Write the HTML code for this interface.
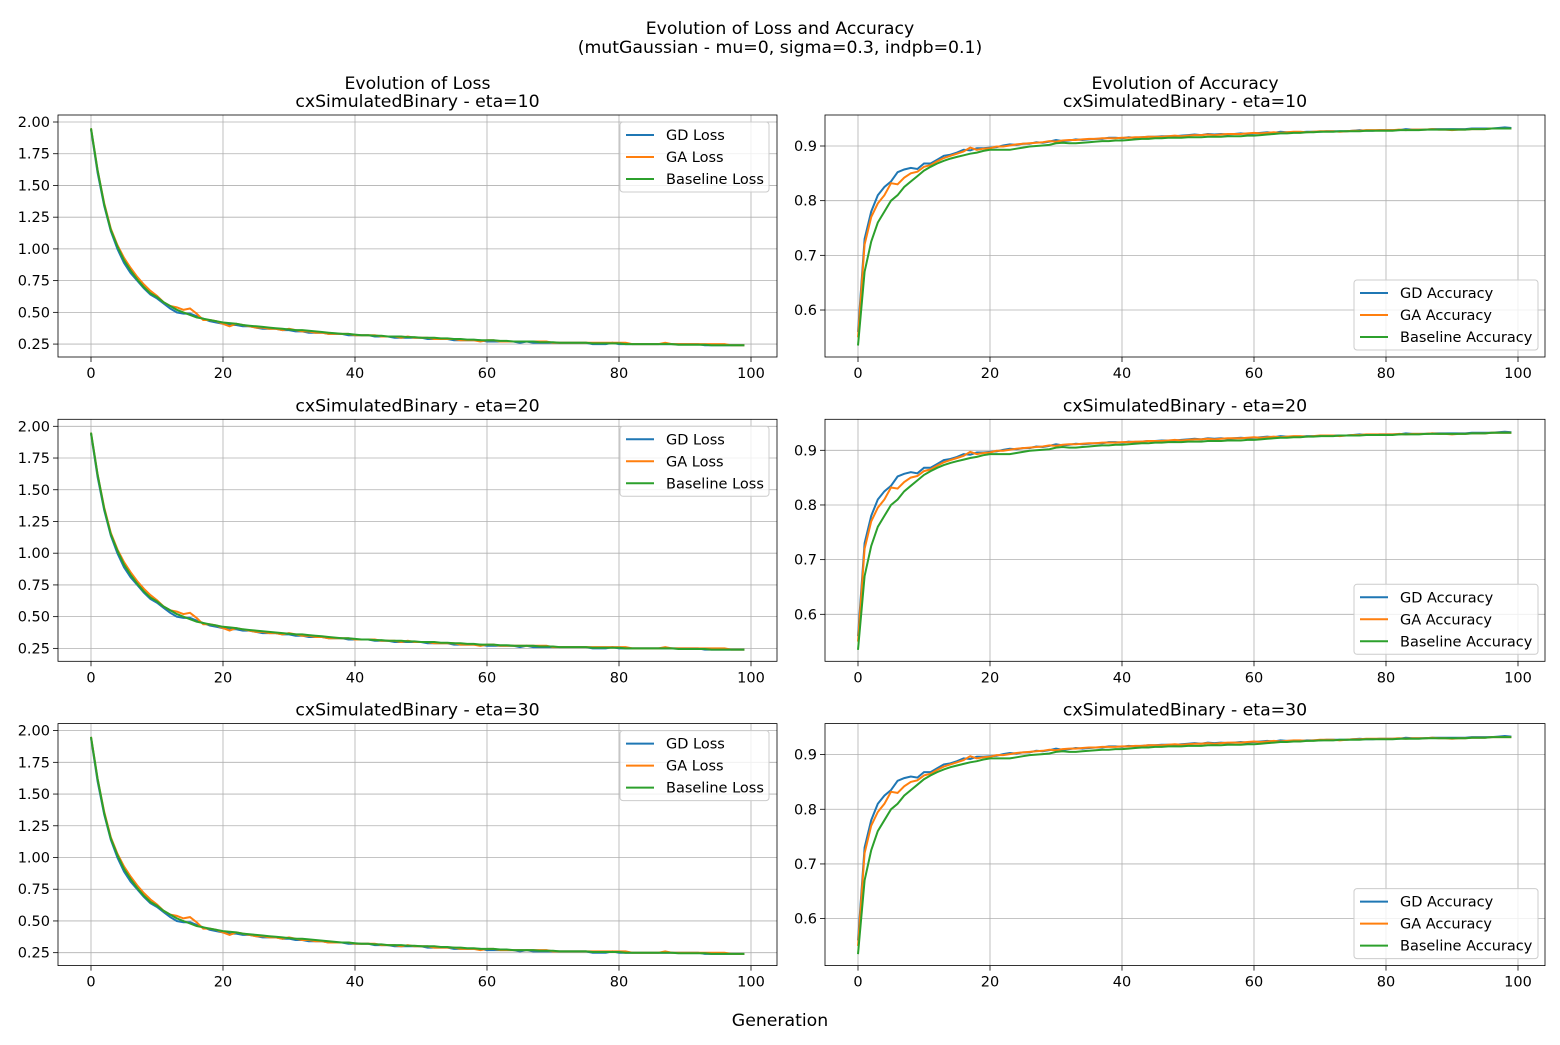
<!DOCTYPE html>
<html><head><meta charset="utf-8"><style>
body{margin:0;background:#fff;font-family:"Liberation Sans","DejaVu Sans",sans-serif}
svg text{font-family:"DejaVu Sans","Liberation Sans",sans-serif;fill:#000}
</style></head><body>
<svg id="c" width="1560" height="1040" xmlns="http://www.w3.org/2000/svg">
<text x="780" y="34" font-size="17.3" text-anchor="middle">Evolution of Loss and Accuracy</text>
<text x="780" y="53" font-size="17.3" text-anchor="middle">(mutGaussian - mu=0, sigma=0.3, indpb=0.1)</text>
<text x="780" y="1026" font-size="17.3" text-anchor="middle">Generation</text>
</svg>
<script>
const etaValues=[10,20,30];
const lossTicks=[2.00,1.75,1.50,1.25,1.00,0.75,0.50,0.25];
const accTicks=[0.9,0.8,0.7,0.6];
const genTicks=[0,20,40,60,80,100];
const baseLoss=[1.95,1.62,1.35,1.15,1.02,0.91,0.83,0.76,0.70,0.65,
0.62,0.58,0.55,0.52,0.50,0.48,0.46,0.45,0.44,0.43,
0.42,0.415,0.41,0.40,0.395,0.39,0.385,0.38,0.375,0.37,
0.365,0.36,0.36,0.355,0.35,0.345,0.34,0.335,0.33,0.33,
0.325,0.32,0.32,0.315,0.315,0.31,0.31,0.31,0.305,0.305,
0.30,0.30,0.30,0.295,0.295,0.29,0.29,0.285,0.285,0.28,
0.28,0.28,0.275,0.275,0.27,0.27,0.27,0.27,0.265,0.265,
0.265,0.26,0.26,0.26,0.26,0.26,0.255,0.255,0.255,0.255,
0.255,0.25,0.25,0.25,0.25,0.25,0.25,0.25,0.25,0.245,
0.245,0.245,0.245,0.245,0.24,0.24,0.24,0.24,0.24,0.24];
const gdLoss=[1.94,1.60,1.34,1.14,1.00,0.89,0.81,0.75,0.69,0.64,
0.61,0.57,0.53,0.50,0.49,0.49,0.47,0.45,0.43,0.42,
0.41,0.40,0.40,0.39,0.39,0.38,0.37,0.37,0.37,0.36,
0.36,0.35,0.35,0.34,0.34,0.34,0.33,0.33,0.33,0.32,
0.32,0.32,0.32,0.31,0.31,0.31,0.30,0.30,0.30,0.30,
0.30,0.29,0.29,0.29,0.29,0.28,0.28,0.28,0.28,0.28,
0.27,0.27,0.27,0.27,0.27,0.26,0.27,0.26,0.26,0.26,
0.26,0.26,0.26,0.26,0.26,0.26,0.25,0.25,0.25,0.26,
0.25,0.25,0.25,0.25,0.25,0.25,0.25,0.25,0.25,0.25,
0.25,0.25,0.25,0.24,0.24,0.24,0.24,0.24,0.24,0.24];
const gaLoss=[1.95,1.62,1.36,1.16,1.03,0.93,0.85,0.78,0.72,0.67,
0.63,0.58,0.55,0.54,0.52,0.53,0.49,0.44,0.44,0.43,
0.41,0.39,0.41,0.40,0.39,0.38,0.38,0.37,0.37,0.36,
0.37,0.36,0.35,0.35,0.34,0.34,0.33,0.33,0.33,0.33,
0.32,0.32,0.32,0.32,0.31,0.31,0.31,0.30,0.31,0.30,
0.30,0.30,0.29,0.29,0.29,0.29,0.28,0.28,0.28,0.27,
0.28,0.28,0.27,0.27,0.27,0.27,0.27,0.27,0.27,0.27,
0.26,0.26,0.26,0.26,0.26,0.26,0.26,0.26,0.26,0.26,
0.26,0.26,0.25,0.25,0.25,0.25,0.25,0.26,0.25,0.25,
0.25,0.25,0.25,0.25,0.25,0.25,0.25,0.24,0.24,0.24];
const baseAcc=[0.535,0.67,0.725,0.76,0.78,0.80,0.81,0.825,0.835,0.845,
0.855,0.862,0.868,0.873,0.877,0.88,0.883,0.886,0.888,0.891,
0.893,0.893,0.893,0.893,0.895,0.897,0.899,0.90,0.901,0.902,
0.905,0.906,0.905,0.905,0.906,0.907,0.908,0.909,0.909,0.91,
0.91,0.911,0.912,0.913,0.913,0.914,0.914,0.915,0.915,0.915,
0.916,0.916,0.916,0.917,0.917,0.917,0.918,0.918,0.918,0.919,
0.919,0.92,0.921,0.922,0.923,0.923,0.924,0.924,0.925,0.925,
0.926,0.926,0.926,0.927,0.927,0.927,0.927,0.928,0.928,0.928,
0.928,0.928,0.929,0.929,0.929,0.929,0.93,0.93,0.93,0.93,
0.93,0.93,0.93,0.931,0.931,0.931,0.932,0.932,0.932,0.932];
const gdAcc=[0.56,0.73,0.78,0.81,0.825,0.835,0.852,0.857,0.86,0.858,
0.868,0.868,0.875,0.882,0.884,0.888,0.893,0.892,0.896,0.896,
0.897,0.898,0.901,0.903,0.902,0.904,0.904,0.907,0.906,0.908,
0.911,0.909,0.91,0.912,0.911,0.912,0.913,0.913,0.915,0.915,
0.914,0.916,0.915,0.916,0.917,0.917,0.918,0.918,0.918,0.919,
0.92,0.921,0.92,0.922,0.921,0.922,0.921,0.922,0.923,0.922,
0.923,0.924,0.925,0.924,0.926,0.925,0.925,0.925,0.926,0.926,
0.926,0.927,0.927,0.927,0.927,0.928,0.929,0.928,0.928,0.929,
0.929,0.929,0.929,0.931,0.93,0.93,0.93,0.931,0.931,0.931,
0.931,0.931,0.931,0.932,0.932,0.932,0.932,0.933,0.934,0.933];
const gaAcc=[0.55,0.72,0.77,0.795,0.81,0.832,0.83,0.842,0.85,0.853,
0.862,0.865,0.872,0.878,0.882,0.886,0.89,0.897,0.893,0.895,
0.896,0.899,0.899,0.901,0.903,0.904,0.905,0.906,0.907,0.909,
0.908,0.91,0.911,0.911,0.912,0.913,0.913,0.914,0.914,0.914,
0.915,0.915,0.916,0.916,0.917,0.917,0.917,0.918,0.919,0.918,
0.919,0.92,0.92,0.921,0.92,0.921,0.922,0.922,0.922,0.923,
0.924,0.923,0.924,0.925,0.924,0.925,0.926,0.926,0.925,0.926,
0.927,0.927,0.927,0.926,0.927,0.928,0.928,0.929,0.929,0.929,
0.929,0.929,0.93,0.929,0.93,0.93,0.93,0.931,0.93,0.93,
0.929,0.93,0.93,0.931,0.931,0.931,0.932,0.932,0.932,0.932];
const colors={gd:'#1f77b4',ga:'#ff7f0e',base:'#2ca02c'};
const svg=document.getElementById('c');
const NS='http://www.w3.org/2000/svg';
function mk(tag,attrs,parent){const e=document.createElementNS(NS,tag);for(const k in attrs)e.setAttribute(k,attrs[k]);(parent||svg).appendChild(e);return e;}
function panel(row,isAcc){
  const off=row*304.3;
  const L=isAcc?825:58,R=isAcc?1545:777,T=115+off,B=357+off;
  const x0=isAcc?858:91;
  const sx=v=>x0+v*6.6;
  const sy=isAcc?(v=>146+off+(0.9-v)*546.7):(v=>122+off+(2.0-v)*126.9);
  const g=mk('g',{});
  
  
  genTicks.forEach(t=>{
    const gl=mk('line',{x1:sx(t),x2:sx(t),y1:T,y2:B,stroke:'#b0b0b0','stroke-width':0.8},g);
    
    
    mk('line',{x1:sx(t),x2:sx(t),y1:B,y2:B+5,stroke:'#000','stroke-width':0.8},g);
    const tx=mk('text',{x:sx(t),y:B+21,'font-size':14.5,'text-anchor':'middle'},g);
    tx.textContent=t;
    
    
  });
  (isAcc?accTicks:lossTicks).forEach(t=>{
    const gl=mk('line',{x1:L,x2:R,y1:sy(t),y2:sy(t),stroke:'#b0b0b0','stroke-width':0.8},g);
    
    
    mk('line',{x1:L-5,x2:L,y1:sy(t),y2:sy(t),stroke:'#000','stroke-width':0.8},g);
    const tx=mk('text',{x:L-8,y:sy(t)+5,'font-size':14.5,'text-anchor':'end'},g);
    tx.textContent=isAcc?t.toFixed(1):t.toFixed(2);
    
    
  });
  const series=isAcc?[['gd',gdAcc,'GD Accuracy'],['ga',gaAcc,'GA Accuracy'],['base',baseAcc,'Baseline Accuracy']]
                    :[['gd',gdLoss,'GD Loss'],['ga',gaLoss,'GA Loss'],['base',baseLoss,'Baseline Loss']];
  series.forEach(([k,arr])=>{
    const p=mk('polyline',{points:arr.map((v,i)=>sx(i).toFixed(1)+','+sy(v).toFixed(1)).join(' '),fill:'none',stroke:colors[k],'stroke-width':2},g);
    
    
  });
  mk('rect',{x:L,y:T,width:R-L,height:B-T,fill:'none',stroke:'#000','stroke-width':0.8},g);
  if(row===0){
    const t1=mk('text',{x:(L+R)/2,y:89,'font-size':17.3,'text-anchor':'middle'},g);
    t1.textContent=isAcc?'Evolution of Accuracy':'Evolution of Loss';
    
    
  }
  const t2=mk('text',{x:(L+R)/2,y:T-8,'font-size':17.3,'text-anchor':'middle'},g);
  t2.textContent='cxSimulatedBinary - eta='+etaValues[row];
  
  
  const lx=isAcc?1354:620,ly=isAcc?280+off:122+off,lw=isAcc?184:149;
  const lg=mk('g',{},g);
  
  
  mk('rect',{x:lx,y:ly,width:lw,height:70,fill:'#fff','fill-opacity':0.8,stroke:'#ccc',rx:3},lg);
  series.forEach(([k,,label],i)=>{
    const yy=ly+13+i*22;
    mk('line',{x1:lx+6,x2:lx+34,y1:yy,y2:yy,stroke:colors[k],'stroke-width':2},lg);
    const tx=mk('text',{x:lx+46,y:yy+5,'font-size':14.5},lg);
    tx.textContent=label;
    
    
  });
}
for(let r=0;r<3;r++){panel(r,false);panel(r,true);}
</script>
</body></html>
